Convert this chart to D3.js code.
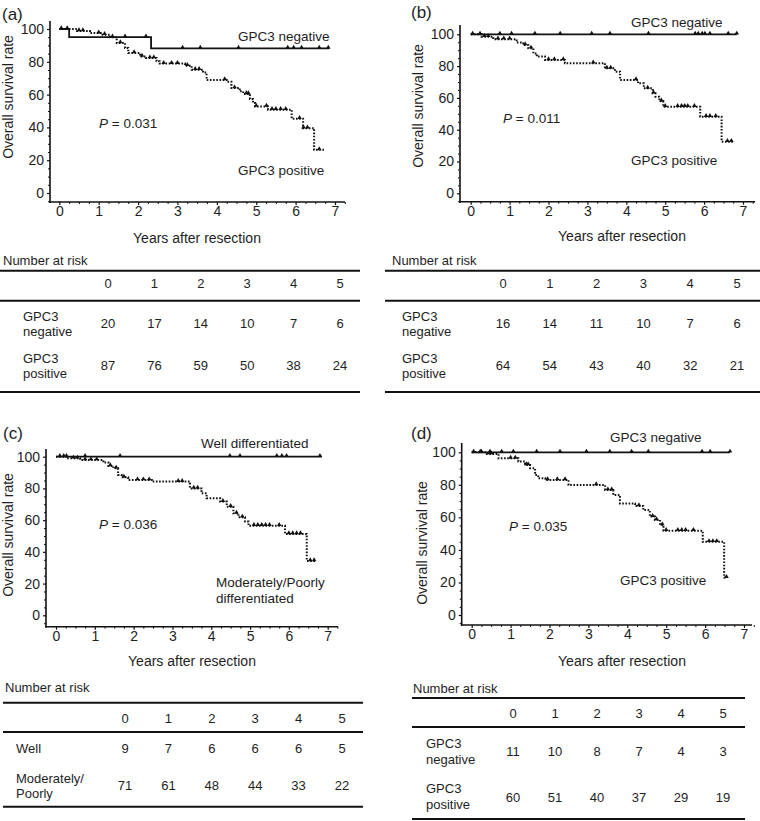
<!DOCTYPE html>
<html><head><meta charset="utf-8">
<script src="https://cdn.jsdelivr.net/npm/d3@7"></script>
<style>
body{margin:0;background:#fff;}
svg{display:block;font-family:"Liberation Sans",Arial,Helvetica,sans-serif;}
text{fill:#1e1e1e;}
</style></head><body>
<svg id="c" width="760" height="821"></svg>
<script>
// ---------- DATA ----------
const xTicks = [0,1,2,3,4,5,6,7];
const yTicks = [0,20,40,60,80,100];
const riskYears = [0,1,2,3,4,5];

// Panel (a)
const aNegSteps = [[0,100],[0.25,95],[2.33,88.2]];
const aNegEnd = 6.85;
const aNegCensor = [0.05,1.67,2.2,3.13,3.58,4.55,5.8,5.95,6.15,6.6,6.83];
const aPosSteps = [[0,100],[0.45,98.8],[0.78,97.5],[1.05,96.5],[1.29,95],[1.46,91.5],[1.67,88.4],[1.75,85.4],[2.05,83.3],[2.2,82.3],[2.47,80.3],[2.55,78.9],[3.19,77.6],[3.36,75.2],[3.65,73.5],[3.74,68.9],[4.25,67.9],[4.37,64],[4.58,62],[4.67,60.4],[4.84,57.3],[4.92,54.9],[4.97,52.8],[5.3,50.8],[5.9,45.3],[6.19,39.5],[6.47,26.3]];
const aPosEnd = 6.72;
const aPosCensor = [0.2,0.5,0.6,1.0,1.15,1.35,1.55,1.9,2.1,2.3,2.4,2.65,2.85,3.0,3.25,3.45,3.55,4.2,4.45,4.75,4.8,5.0,5.26,5.4,5.5,5.62,5.75,6.1,6.2,6.3,6.6];
const aRiskNeg = [20,17,14,10,7,6];
const aRiskPos = [87,76,59,50,38,24];

// Panel (b)
const bNegSteps = [[0,100]];
const bNegEnd = 6.84;
const bNegCensor = [0.05,0.24,0.75,1.05,1.65,2.3,3.11,3.58,4.57,5.77,5.85,5.95,6.02,6.15,6.62,6.84];
const bPosSteps = [[0,100],[0.28,98.5],[0.58,96.9],[1.18,94.8],[1.35,93.3],[1.48,91.2],[1.61,88],[1.7,86],[1.91,83.9],[2.42,81.8],[3.45,78.6],[3.71,76.5],[3.84,71.3],[4.3,69.2],[4.45,66],[4.68,62.9],[4.75,60.8],[4.85,58],[4.95,54.5],[5.9,48.2],[6.45,32.5]];
const bPosEnd = 6.75;
const bPosCensor = [0.35,0.45,0.7,0.85,1.0,1.4,1.55,2.0,2.15,2.38,3.15,3.5,3.6,4.25,4.55,4.7,4.9,5.0,5.32,5.42,5.5,5.58,5.75,6.05,6.15,6.3,6.6,6.7];
const bRiskNeg = [16,14,11,10,7,6];
const bRiskPos = [64,54,43,40,32,21];

// Panel (c)
const cWellSteps = [[0,100]];
const cWellEnd = 6.85;
const cWellCensor = [0.27,0.75,1.65,4.48,4.74,5.69,5.82,5.94,6.8];
const cModSteps = [[0,100],[0.27,99],[0.62,97.9],[1.22,96.3],[1.35,94.2],[1.48,92.7],[1.6,88.5],[1.69,87],[1.86,85.3],[2.47,84.3],[3.45,80],[3.75,76.9],[3.88,73.8],[4.23,71.7],[4.4,68.5],[4.57,64.3],[4.7,61.8],[4.87,59.1],[4.96,56.5],[5.9,51.3],[6.46,34.3]];
const cModEnd = 6.68;
const cModCensor = [0.1,0.2,0.45,0.55,0.75,0.9,1.05,1.4,1.55,1.75,2.1,2.25,2.4,3.15,3.25,3.55,3.65,4.3,4.5,4.65,4.8,5.1,5.2,5.3,5.4,5.5,5.75,6.0,6.1,6.2,6.3,6.55,6.65];
const cRiskWell = [9,7,6,6,6,5];
const cRiskMod = [71,61,48,44,33,22];

// Panel (d)
const dNegSteps = [[0,100]];
const dNegEnd = 6.64;
const dNegCensor = [0.05,0.22,0.47,0.77,1.07,1.67,2.27,2.95,3.55,4.11,4.54,5.92,6.13,6.64];
const dPosSteps = [[0,100],[0.39,99],[0.69,96.3],[1.2,94.3],[1.37,92.2],[1.5,90.2],[1.63,86],[1.71,84],[1.89,83],[2.49,79.9],[3.43,76.8],[3.64,73.8],[3.81,68.6],[4.2,67],[4.41,64.5],[4.58,60.5],[4.71,58.4],[4.84,55.3],[4.93,51.8],[5.94,45],[6.49,23]];
const dPosEnd = 6.55;
const dPosCensor = [0.25,0.45,0.5,1.0,1.12,1.4,1.45,1.95,2.2,2.4,3.2,3.5,3.6,4.3,4.65,4.75,4.9,5.0,5.3,5.4,5.5,5.7,6.1,6.2,6.3,6.55];
const dRiskNeg = [11,10,8,7,4,3];
const dRiskPos = [60,51,40,37,29,19];

// ---------- DRAW ----------
const svg = d3.select("#c");
const INK = "#111";

function stepPath(steps, end){
  const pts = [];
  steps.forEach((s,i)=>{
    if(i>0) pts.push([s[0], steps[i-1][1]]);
    pts.push([s[0], s[1]]);
  });
  pts.push([end, steps[steps.length-1][1]]);
  return pts;
}
function survAt(steps, t){
  let v = steps[0][1];
  steps.forEach(s=>{ if(s[0] <= t) v = s[1]; });
  return v;
}

function panel(L){
  const g = svg.append("g");
  const x = d3.scaleLinear().domain([0,7]).range([L.t0, L.t7]);
  const y = d3.scaleLinear().domain([0,100]).range([L.y0, L.y100]);

  g.append("line").attr("x1",L.ax).attr("x2",L.ax).attr("y1",L.yTop).attr("y2",L.xAxisY+1)
    .attr("stroke",INK).attr("stroke-width",1.6);
  g.append("line").attr("x1",L.ax-0.8).attr("x2",L.xRight).attr("y1",L.xAxisY).attr("y2",L.xAxisY)
    .attr("stroke",INK).attr("stroke-width",1.6);

  const ya = g.append("g").attr("transform",`translate(${L.ax},0)`)
    .call(d3.axisLeft(y).tickValues(yTicks).tickSize(3).tickPadding(3).tickFormat(d3.format("d")));
  ya.select(".domain").remove();
  ya.selectAll("line").attr("stroke",INK).attr("stroke-width",1.2);
  ya.selectAll("text").attr("font-size",14).attr("fill","#1e1e1e").attr("font-family",null);
  const ym = g.append("g").attr("transform",`translate(${L.ax},0)`)
    .call(d3.axisLeft(y).tickValues(d3.range(-5,105,5).filter(v=>v%20!==0)).tickSize(2).tickFormat(""));
  ym.select(".domain").remove();
  ym.selectAll("line").attr("stroke",INK).attr("stroke-width",1);

  const xa = g.append("g").attr("transform",`translate(0,${L.xAxisY})`)
    .call(d3.axisBottom(x).tickValues(xTicks).tickSize(3).tickPadding(1).tickFormat(d3.format("d")));
  xa.select(".domain").remove();
  xa.selectAll("line").attr("stroke",INK).attr("stroke-width",1.2);
  xa.selectAll("text").attr("font-size",14).attr("fill","#1e1e1e").attr("font-family",null);
  const xm = g.append("g").attr("transform",`translate(0,${L.xAxisY})`)
    .call(d3.axisBottom(x).tickValues(d3.range(0,7.26,0.25).filter(v=>v%1!==0)).tickSize(2).tickFormat(""));
  xm.select(".domain").remove();
  xm.selectAll("line").attr("stroke",INK).attr("stroke-width",1);

  g.append("text").attr("x",L.xtX).attr("y",L.xtY).attr("text-anchor","middle")
    .attr("font-size",14).text("Years after resection");
  g.append("text").attr("transform",`translate(${L.ytX},${L.ytY}) rotate(-90)`)
    .attr("text-anchor","middle").attr("font-size",14).text("Overall survival rate");
  g.append("text").attr("x",L.labX).attr("y",L.labY).attr("font-size",17).text(L.label);

  const line = d3.line().x(d=>x(d[0])).y(d=>y(d[1]));
  g.append("path").attr("d",line(stepPath(L.solid.steps,L.solid.end)))
    .attr("fill","none").attr("stroke",INK).attr("stroke-width",1.8);
  g.append("path").attr("d",line(stepPath(L.dot.steps,L.dot.end)))
    .attr("fill","none").attr("stroke",INK).attr("stroke-width",2).attr("stroke-dasharray","1.6,1.6");
  const sym = d3.symbol().type(d3.symbolTriangle).size(9);
  [L.solid, L.dot].forEach(s=>{
    g.selectAll(null).data(s.censor).enter().append("path")
      .attr("d",sym)
      .attr("transform",t=>`translate(${x(t)},${y(survAt(s.steps,t))-1})`)
      .attr("fill",INK);
  });

  L.notes.forEach(n=>{
    const t = g.append("text").attr("x",n.x).attr("y",n.y).attr("font-size",13.5);
    if(n.p){
      t.append("tspan").attr("font-style","italic").text("P");
      t.append("tspan").text(" = " + n.p);
    } else t.text(n.t);
  });
}

function table(T){
  const g = svg.append("g");
  const cx = d3.scalePoint().domain(riskYears).range([T.c0, T.c5]);
  g.append("text").attr("x",T.titleX).attr("y",T.titleY).attr("font-size",13).text("Number at risk");
  T.rules.forEach(r=>g.append("line").attr("x1",T.x1).attr("x2",T.x2).attr("y1",r).attr("y2",r)
    .attr("stroke",INK).attr("stroke-width",2));
  g.selectAll(null).data(riskYears).enter().append("text")
    .attr("x",d=>cx(d)).attr("y",T.headY).attr("text-anchor","middle").attr("font-size",13).text(d=>d);
  T.rows.forEach(row=>{
    row.label.forEach((s,i)=>g.append("text").attr("x",T.labelX).attr("y",row.labY[i]).attr("font-size",13).text(s));
    g.selectAll(null).data(row.vals).enter().append("text")
      .attr("x",(d,i)=>cx(riskYears[i])).attr("y",row.valY).attr("text-anchor","middle").attr("font-size",13).text(d=>d);
  });
}

panel({label:"(a)",labX:2,labY:20,
  ax:50,t0:59.3,t7:335,y100:29,y0:193,xAxisY:202,yTop:21,xRight:345,
  xtX:197,xtY:243,ytX:13,ytY:97,
  solid:{steps:aNegSteps,end:aNegEnd,censor:aNegCensor},
  dot:{steps:aPosSteps,end:aPosEnd,censor:aPosCensor},
  notes:[{x:238,y:41,t:"GPC3 negative"},{x:238,y:175,t:"GPC3 positive"},{x:99,y:128,p:"0.031"}]});

panel({label:"(b)",labX:411,labY:18,
  ax:460,t0:470.7,t7:743,y100:34.3,y0:193.3,xAxisY:201.7,yTop:25,xRight:755,
  xtX:622,xtY:241,ytX:423,ytY:106,
  solid:{steps:bNegSteps,end:bNegEnd,censor:bNegCensor},
  dot:{steps:bPosSteps,end:bPosEnd,censor:bPosCensor},
  notes:[{x:631,y:27,t:"GPC3 negative"},{x:631,y:165,t:"GPC3 positive"},{x:503,y:123,p:"0.011"}]});

panel({label:"(c)",labX:3,labY:439,
  ax:46,t0:56,t7:327.7,y100:456.7,y0:615.3,xAxisY:626.7,yTop:449,xRight:338,
  xtX:192,xtY:666,ytX:13,ytY:535,
  solid:{steps:cWellSteps,end:cWellEnd,censor:cWellCensor},
  dot:{steps:cModSteps,end:cModEnd,censor:cModCensor},
  notes:[{x:201,y:448,t:"Well differentiated"},{x:216,y:587,t:"Moderately/Poorly"},{x:216,y:603,t:"differentiated"},{x:99,y:529,p:"0.036"}]});

panel({label:"(d)",labX:411,labY:439,
  ax:461.7,t0:471.7,t7:744,y100:452.3,y0:615,xAxisY:625,yTop:443,xRight:752,
  xtX:622,xtY:666,ytX:427,ytY:543,
  solid:{steps:dNegSteps,end:dNegEnd,censor:dNegCensor},
  dot:{steps:dPosSteps,end:dPosEnd,censor:dPosCensor},
  notes:[{x:610,y:442,t:"GPC3 negative"},{x:620,y:585,t:"GPC3 positive"},{x:509,y:531,p:"0.035"}]});

table({titleX:3,titleY:265,x1:0,x2:360,rules:[270.7,300.7,392],headY:288,c0:108,c5:340,labelX:23,
  rows:[{label:["GPC3","negative"],labY:[321,336],vals:aRiskNeg,valY:328},
        {label:["GPC3","positive"],labY:[363,378],vals:aRiskPos,valY:370}]});
table({titleX:392,titleY:265,x1:385,x2:760,rules:[270.7,300.7,392],headY:288,c0:503,c5:737,labelX:402,
  rows:[{label:["GPC3","negative"],labY:[321,336],vals:bRiskNeg,valY:328},
        {label:["GPC3","positive"],labY:[363,378],vals:bRiskPos,valY:370}]});
table({titleX:5,titleY:692,x1:3,x2:363,rules:[702.7,732,806.7],headY:723,c0:125,c5:342,labelX:16,
  rows:[{label:["Well"],labY:[753],vals:cRiskWell,valY:753},
        {label:["Moderately/","Poorly"],labY:[783,798],vals:cRiskMod,valY:790}]});
table({titleX:413,titleY:693,x1:412,x2:745,rules:[698,727,819],headY:718,c0:513,c5:723,labelX:426,
  rows:[{label:["GPC3","negative"],labY:[748,764],vals:dRiskNeg,valY:756},
        {label:["GPC3","positive"],labY:[793,809],vals:dRiskPos,valY:802}]});
</script>
</body></html>
